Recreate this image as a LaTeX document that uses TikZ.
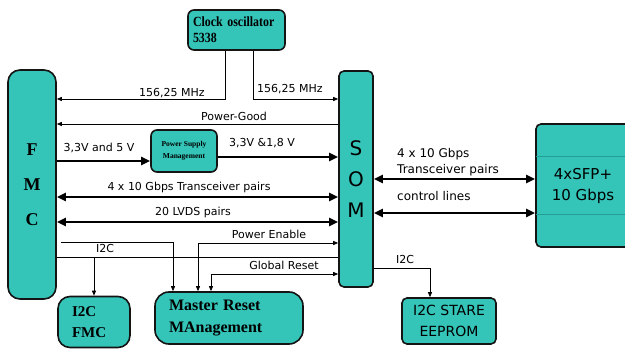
\documentclass[tikz,border=0pt]{standalone}
\usepackage{fontspec}
\setmainfont{Liberation Serif}
\newfontfamily\labelfont{DejaVu Sans}
\newfontfamily\boxserif[FakeStretch=0.85]{Liberation Serif}
\usetikzlibrary{arrows.meta,calc}

\definecolor{boxfill}{RGB}{52,196,184}
\definecolor{boxline}{RGB}{20,20,20}
\definecolor{boxinner}{RGB}{36,158,148}

\begin{document}
\begin{tikzpicture}[x=1pt,y=-1pt,
  box/.style={draw=boxline, line width=1.6pt, fill=boxfill, rounded corners=5pt, inner sep=0pt},
  wire/.style={line width=0.8pt, >={Triangle[length=5pt,width=4pt]}},
  bus/.style={line width=2.6pt, >={Triangle[length=9pt,width=8pt]}},
  lbl/.style={font=\labelfont\fontsize{11}{16}\selectfont, inner sep=0pt}]

\useasboundingbox (0,0) rectangle (625,352);

% blocks
\node[box, rounded corners=12pt, minimum width=48, minimum height=229, align=center,
  font=\bfseries\fontsize{18}{35}\selectfont] (fmc) at (32,184.5) {F\\M\\C};
\node[box, minimum width=34, minimum height=216, align=center,
  font=\labelfont\fontsize{20}{31}\selectfont] (som) at (356,179) {S\\O\\M};
\node[box, minimum width=94, minimum height=123, align=center,
  font=\labelfont\fontsize{15}{21}\selectfont] (sfp) at (583,185.5) {4xSFP+\\10 Gbps};
\draw[boxinner, line width=0.8pt] ([xshift=0.8pt]sfp.west |- 0,156) -- (sfp.east |- 0,156);
\draw[boxinner, line width=0.8pt] ([xshift=0.8pt]sfp.west |- 0,214) -- (sfp.east |- 0,214);
\node[box, rounded corners=6pt, minimum width=97, minimum height=40, text width=87, align=left,
  font=\boxserif\bfseries\fontsize{14}{16}\selectfont] (clk) at (236.5,30) {Clock oscillator\\5338};
\node[box, rounded corners=6pt, minimum width=66, minimum height=42, align=center,
  font=\bfseries\fontsize{7.5}{12}\selectfont] (psm) at (184,151) {Power Supply\\Management};
\node[box, rounded corners=12pt, minimum width=72, minimum height=51, text width=44, align=left,
  font=\bfseries\fontsize{15}{21}\selectfont] (i2cfmc) at (94,322) {I2C\\FMC};
\node[box, rounded corners=14pt, minimum width=148, minimum height=52, text width=120, align=left,
  font=\bfseries\fontsize{16}{22}\selectfont] (mrm) at (229,318) {Master Reset\\MAnagement};
\node[box, minimum width=94, minimum height=46, align=center,
  font=\labelfont\fontsize{14}{21}\selectfont] (eeprom) at (449,321) {I2C STARE\\EEPROM};

% signal rows
\coordinate (clkrow) at (0,99);
\coordinate (pgrow) at (0,124);
\coordinate (pwrin) at (0,161);
\coordinate (pwrout) at (0,157);
\coordinate (gtrow) at (0,197);
\coordinate (lvdsrow) at (0,222);
\coordinate (rstrow) at (0,242);
\coordinate (enrow) at (0,243);
\coordinate (i2crow) at (0,257);
\coordinate (eerow) at (0,268);
\coordinate (gresrow) at (0,274);
\coordinate (sfprowa) at (0,179);
\coordinate (sfprowb) at (0,213);

% connectors
\draw[wire,->] ([xshift=-11.5pt]clk.south) |- (fmc.east |- clkrow);
\draw[wire,->] ([xshift=16.5pt]clk.south) |- (som.west |- clkrow);
\draw[wire,->] (som.west |- pgrow) -- (fmc.east |- pgrow);
\draw[bus,->] (fmc.east |- pwrin) -- (psm.west |- pwrin);
\draw[bus,->] (psm.east |- pwrout) -- (som.west |- pwrout);
\draw[bus,<->] (fmc.east |- gtrow) -- (som.west |- gtrow);
\draw[bus,<->] (fmc.east |- lvdsrow) -- (som.west |- lvdsrow);
\draw[wire,->] ($(fmc.east |- rstrow)+(4,0)$) -| ([xshift=-56pt]mrm.north);
\draw[wire,<->] (som.west |- enrow) -| ([xshift=-31pt]mrm.north);
\draw[wire] (fmc.east |- i2crow) -- (som.west |- i2crow);
\draw[wire,->] (i2cfmc.north |- i2crow) -- (i2cfmc.north);
\draw[wire,<->] (som.west |- gresrow) -| ([xshift=-18pt]mrm.north);
\draw[wire,->] (som.east |- eerow) -| ([xshift=-19pt]eeprom.north);
\draw[bus,<->] (som.east |- sfprowa) -- (sfp.west |- sfprowa);
\draw[bus,<->] (som.east |- sfprowb) -- (sfp.west |- sfprowb);

% labels
\node[lbl] (lclka) at (172,93) {156,25 MHz};
\node[lbl] (lclkb) at (290,89) {156,25 MHz};
\node[lbl] (lpg) at (234,116) {Power-Good};
\node[lbl] (lpin) at (99,148) {3,3V and 5 V};
\node[lbl] (lpout) at (262,143) {3,3V \&1,8 V};
\node[lbl] (lgt) at (189,187) {4 x 10 Gbps Transceiver pairs};
\node[lbl] (llvds) at (193,212) {20 LVDS pairs};
\node[lbl] (li2ca) at (105,248) {I2C};
\node[lbl] (len) at (269,234) {Power Enable};
\node[lbl] (lgres) at (284,265) {Global Reset};
\node[lbl] (li2cb) at (405,259) {I2C};
\node[lbl, font=\labelfont\fontsize{12}{16}\selectfont, anchor=west, align=left] (lsfpa) at (397,162) {4 x 10 Gbps\\Transceiver pairs};
\node[lbl, font=\labelfont\fontsize{12}{16}\selectfont, anchor=west] (lsfpb) at (397,196) {control lines};

\end{tikzpicture}
\end{document}
